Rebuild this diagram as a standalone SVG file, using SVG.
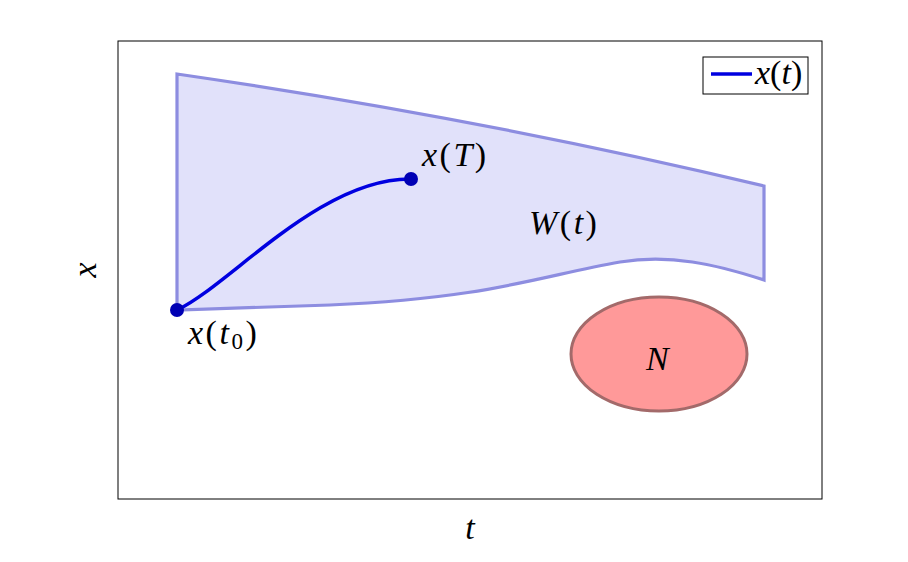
<svg xmlns="http://www.w3.org/2000/svg" width="908" height="562" viewBox="0 0 908 562">
<style>
text{font-family:"Liberation Serif","DejaVu Serif",serif;font-size:34px;fill:#000}
.m{letter-spacing:2.5px}
.i{font-style:italic}
.traj{fill:none;stroke:#0000e0;stroke-width:3.5;stroke-linecap:round}
.dot{fill:#0000b4}
</style>
<rect width="908" height="562" fill="#fff"/>
<g id="axes">
<rect x="118" y="41" width="704" height="458" fill="none" stroke="#000" stroke-width="1"/>
</g>
<g id="region">
<path d="M177,74 Q480,118 764,186 L764,280 C715,264 670,254 620,262 C540,276 490,298 330,305 L177,310 Z" fill="#e1e1fa" stroke="#8d8de0" stroke-width="3.2" stroke-linejoin="miter"/>
</g>
<g id="N">
<ellipse cx="659" cy="354" rx="88" ry="57" fill="#ff9999" stroke="#a36a6a" stroke-width="3"/>
<text x="646" y="370" class="i" font-size="32">N</text>
</g>
<g id="connectors">
<path class="traj" d="M177,310 C230,285 320,178 411,179"/>
</g>
<g id="x0">
<circle class="dot" cx="177" cy="310" r="7"/>
<text x="188" y="344" class="m"><tspan class="i">x</tspan>(<tspan class="i">t</tspan><tspan font-size="23" dy="5">0</tspan><tspan dy="-5">)</tspan></text>
</g>
<g id="xT">
<circle class="dot" cx="411" cy="179" r="7"/>
<text x="422" y="166" class="m"><tspan class="i">x</tspan>(<tspan class="i">T</tspan>)</text>
</g>
<g id="W">
<text x="529" y="234" class="m"><tspan class="i">W</tspan>(<tspan class="i">t</tspan>)</text>
</g>
<g id="legend">
<rect x="703" y="57" width="105" height="37" fill="#fff" stroke="#000" stroke-width="1"/>
<line x1="711" y1="74" x2="752" y2="74" stroke="#0000e0" stroke-width="3.5"/>
<text x="755" y="84" font-size="30"><tspan class="i">x</tspan>(<tspan class="i">t</tspan>)</text>
</g>
<g id="labels">
<text x="470" y="539" class="i" text-anchor="middle">t</text>
<text x="0" y="0" class="i" text-anchor="middle" transform="translate(96,270) rotate(-90)">x</text>
</g>
</svg>
